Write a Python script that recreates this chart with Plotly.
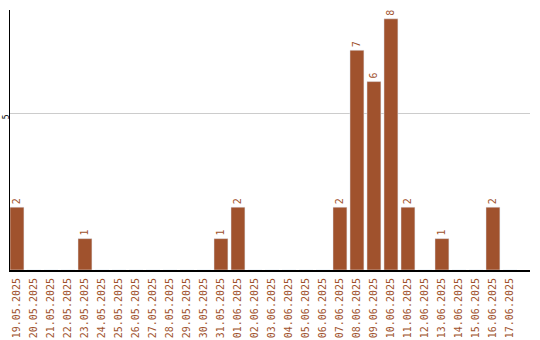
import plotly.graph_objects as go

dates = ["19.05.2025","20.05.2025","21.05.2025","22.05.2025","23.05.2025","24.05.2025",
         "25.05.2025","26.05.2025","27.05.2025","28.05.2025","29.05.2025","30.05.2025",
         "31.05.2025","01.06.2025","02.06.2025","03.06.2025","04.06.2025","05.06.2025",
         "06.06.2025","07.06.2025","08.06.2025","09.06.2025","10.06.2025","11.06.2025",
         "12.06.2025","13.06.2025","14.06.2025","15.06.2025","16.06.2025","17.06.2025"]
counts = [2,0,0,0,1,0,0,0,0,0,0,0,1,2,0,0,0,0,0,2,7,6,8,2,0,1,0,0,2,0]
labels = [str(v) if v > 0 else "" for v in counts]

color = "#A0522D"
fig = go.Figure(go.Bar(
    x=dates, y=counts, marker_color=color, width=0.82,
    text=labels, textposition="outside", textangle=-90, cliponaxis=False,
    textfont=dict(color=color, size=10, family="DejaVu Sans Mono"),
))
fig.update_layout(
    width=540, height=340, margin=dict(l=10, r=10, t=10, b=70),
    plot_bgcolor="white", paper_bgcolor="white", showlegend=False,
    xaxis=dict(type="category", range=[-0.41, 30.18], showline=True, linecolor="black",
               linewidth=2, tickangle=-90, ticks="", automargin=False, ticklabelstandoff=2,
               tickfont=dict(color=color, size=10, family="DejaVu Sans Mono")),
    yaxis=dict(range=[0, 8.28], tickvals=[5], ticktext=["5"], showline=True,
               linecolor="black", linewidth=1, gridcolor="#cccccc", zeroline=False,
               ticks="", ticklen=0, ticklabelstandoff=-3, ticklabelshift=5,
               tickangle=-90, automargin=False,
               tickfont=dict(color="black", size=8, family="DejaVu Sans Mono")),
)
fig.write_html("out.html")
